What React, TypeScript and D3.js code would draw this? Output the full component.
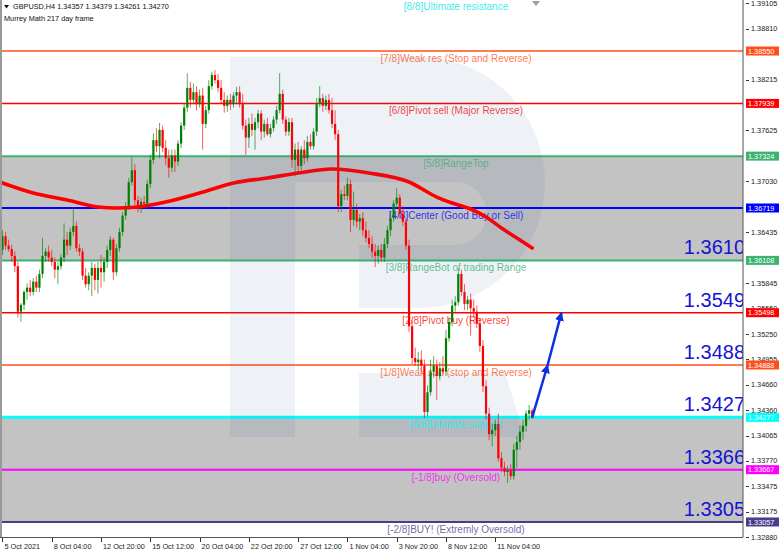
import React from "react";
import * as d3 from "d3";

// ---------- DATA ----------
// GBPUSD H4 candles: [open, high, low, close]
const candles: [number, number, number, number][] = [
  [1.3623,1.3646,1.3617,1.3639],[1.3639,1.3644,1.3623,1.3628],[1.3628,1.3635,1.3621,1.3624],[1.3624,1.3629,1.3609,1.3616],
  [1.3616,1.3621,1.3597,1.3604],[1.3604,1.3609,1.3544,1.3551],[1.3551,1.3561,1.3539,1.3559],[1.3559,1.3576,1.3553,1.3574],
  [1.3574,1.3584,1.3565,1.3579],[1.3579,1.3588,1.3569,1.3574],[1.3574,1.3590,1.3570,1.3586],[1.3586,1.3593,1.3574,1.3579],
  [1.3579,1.3600,1.3574,1.3595],[1.3595,1.3637,1.3590,1.3616],[1.3616,1.3625,1.3609,1.3621],[1.3621,1.3628,1.3609,1.3614],
  [1.3614,1.3623,1.3604,1.3609],[1.3609,1.3614,1.3590,1.3600],[1.3600,1.3609,1.3583,1.3604],[1.3604,1.3618,1.3600,1.3614],
  [1.3614,1.3654,1.3609,1.3635],[1.3635,1.3644,1.3617,1.3628],[1.3628,1.3649,1.3623,1.3644],[1.3644,1.3673,1.3639,1.3651],
  [1.3651,1.3656,1.3621,1.3625],[1.3625,1.3630,1.3616,1.3621],[1.3621,1.3625,1.3588,1.3593],[1.3593,1.3602,1.3579,1.3583],
  [1.3583,1.3597,1.3576,1.3593],[1.3593,1.3609,1.3569,1.3602],[1.3602,1.3607,1.3576,1.3588],[1.3588,1.3609,1.3572,1.3602],
  [1.3602,1.3617,1.3579,1.3597],[1.3597,1.3614,1.3586,1.3609],[1.3609,1.3628,1.3602,1.3623],[1.3623,1.3639,1.3616,1.3635],
  [1.3635,1.3637,1.3588,1.3597],[1.3597,1.3630,1.3593,1.3625],[1.3625,1.3649,1.3621,1.3644],[1.3644,1.3667,1.3639,1.3663],
  [1.3663,1.3679,1.3658,1.3674],[1.3674,1.3707,1.3670,1.3702],[1.3702,1.3731,1.3698,1.3716],[1.3716,1.3723,1.3675,1.3681],
  [1.3681,1.3686,1.3667,1.3674],[1.3674,1.3684,1.3666,1.3679],[1.3679,1.3686,1.3670,1.3677],[1.3677,1.3705,1.3672,1.3700],
  [1.3700,1.3734,1.3695,1.3728],[1.3728,1.3759,1.3723,1.3751],[1.3751,1.3765,1.3737,1.3744],[1.3744,1.3771,1.3730,1.3763],
  [1.3763,1.3768,1.3737,1.3742],[1.3742,1.3751,1.3722,1.3730],[1.3730,1.3740,1.3707,1.3719],[1.3719,1.3740,1.3714,1.3733],
  [1.3733,1.3740,1.3714,1.3726],[1.3726,1.3751,1.3721,1.3747],[1.3747,1.3772,1.3742,1.3768],[1.3768,1.3793,1.3763,1.3789],
  [1.3789,1.3829,1.3784,1.3812],[1.3812,1.3819,1.3789,1.3798],[1.3798,1.3817,1.3793,1.3807],[1.3807,1.3814,1.3786,1.3793],
  [1.3793,1.3810,1.3789,1.3803],[1.3803,1.3812,1.3740,1.3770],[1.3770,1.3791,1.3765,1.3786],[1.3786,1.3821,1.3782,1.3814],
  [1.3814,1.3831,1.3810,1.3827],[1.3827,1.3833,1.3817,1.3821],[1.3821,1.3828,1.3807,1.3812],[1.3812,1.3821,1.3793,1.3798],
  [1.3798,1.3807,1.3783,1.3791],[1.3791,1.3803,1.3784,1.3798],[1.3798,1.3805,1.3786,1.3793],[1.3793,1.3807,1.3789,1.3803],
  [1.3803,1.3813,1.3793,1.3807],[1.3807,1.3814,1.3789,1.3793],[1.3793,1.3805,1.3763,1.3768],[1.3768,1.3775,1.3734,1.3754],
  [1.3754,1.3777,1.3742,1.3770],[1.3770,1.3782,1.3756,1.3763],[1.3763,1.3777,1.3740,1.3772],[1.3772,1.3786,1.3765,1.3782],
  [1.3782,1.3786,1.3751,1.3761],[1.3761,1.3775,1.3754,1.3770],[1.3770,1.3777,1.3756,1.3758],[1.3758,1.3770,1.3754,1.3765],
  [1.3765,1.3779,1.3761,1.3775],[1.3775,1.3791,1.3770,1.3786],[1.3786,1.3829,1.3782,1.3805],[1.3805,1.3810,1.3770,1.3775],
  [1.3775,1.3779,1.3756,1.3761],[1.3761,1.3777,1.3756,1.3772],[1.3772,1.3777,1.3719,1.3728],[1.3728,1.3747,1.3709,1.3740],
  [1.3740,1.3749,1.3714,1.3721],[1.3721,1.3744,1.3716,1.3740],[1.3740,1.3751,1.3723,1.3730],[1.3730,1.3756,1.3726,1.3749],
  [1.3749,1.3758,1.3740,1.3744],[1.3744,1.3765,1.3740,1.3761],[1.3761,1.3800,1.3756,1.3793],[1.3793,1.3814,1.3789,1.3800],
  [1.3800,1.3805,1.3784,1.3791],[1.3791,1.3803,1.3786,1.3798],[1.3798,1.3805,1.3782,1.3786],[1.3786,1.3800,1.3765,1.3770],
  [1.3770,1.3786,1.3751,1.3758],[1.3758,1.3763,1.3667,1.3674],[1.3674,1.3693,1.3667,1.3688],[1.3688,1.3698,1.3681,1.3686],
  [1.3686,1.3707,1.3681,1.3700],[1.3700,1.3705,1.3644,1.3658],[1.3658,1.3691,1.3651,1.3670],[1.3670,1.3677,1.3649,1.3656],
  [1.3656,1.3665,1.3646,1.3660],[1.3660,1.3667,1.3639,1.3646],[1.3646,1.3656,1.3632,1.3637],[1.3637,1.3646,1.3625,1.3630],
  [1.3630,1.3639,1.3614,1.3621],[1.3621,1.3630,1.3603,1.3616],[1.3616,1.3628,1.3607,1.3623],[1.3623,1.3630,1.3609,1.3614],
  [1.3614,1.3637,1.3609,1.3630],[1.3630,1.3651,1.3625,1.3646],[1.3646,1.3667,1.3639,1.3660],[1.3660,1.3681,1.3656,1.3677],
  [1.3677,1.3695,1.3672,1.3684],[1.3684,1.3688,1.3660,1.3665],[1.3665,1.3674,1.3651,1.3656],[1.3656,1.3660,1.3623,1.3628],
  [1.3628,1.3635,1.3527,1.3534],[1.3534,1.3541,1.3490,1.3497],[1.3497,1.3509,1.3488,1.3492],[1.3492,1.3504,1.3483,1.3495],
  [1.3495,1.3506,1.3481,1.3488],[1.3488,1.3495,1.3427,1.3434],[1.3434,1.3465,1.3429,1.3457],[1.3457,1.3495,1.3453,1.3481],
  [1.3481,1.3499,1.3474,1.3488],[1.3488,1.3495,1.3448,1.3476],[1.3476,1.3492,1.3471,1.3485],[1.3485,1.3499,1.3478,1.3481],
  [1.3481,1.3530,1.3476,1.3520],[1.3520,1.3544,1.3516,1.3539],[1.3539,1.3565,1.3534,1.3558],[1.3558,1.3569,1.3551,1.3562],
  [1.3562,1.3602,1.3558,1.3595],[1.3595,1.3600,1.3569,1.3574],[1.3574,1.3583,1.3553,1.3560],[1.3560,1.3569,1.3553,1.3565],
  [1.3565,1.3572,1.3523,1.3555],[1.3555,1.3565,1.3544,1.3551],[1.3551,1.3558,1.3532,1.3537],[1.3537,1.3544,1.3504,1.3511],
  [1.3511,1.3518,1.3457,1.3464],[1.3464,1.3471,1.3425,1.3432],[1.3432,1.3439,1.3401,1.3408],[1.3408,1.3420,1.3394,1.3413],
  [1.3413,1.3425,1.3406,1.3420],[1.3420,1.3432,1.3376,1.3380],[1.3380,1.3387,1.3364,1.3369],[1.3369,1.3376,1.3359,1.3364],
  [1.3364,1.3371,1.3351,1.3366],[1.3366,1.3373,1.3355,1.3359],[1.3359,1.3397,1.3355,1.3390],[1.3390,1.3406,1.3369,1.3399],
  [1.3399,1.3418,1.3390,1.3411],[1.3411,1.3425,1.3401,1.3418],[1.3418,1.3436,1.3411,1.3432],[1.3432,1.3442,1.3425,1.3436],
  [1.34357,1.34379,1.34261,1.34270],
];

// Moving average samples (bar index, value)
const maBars = [0, 10, 21, 31, 37, 44, 53, 64, 75, 86, 96, 107, 119, 132, 141, 146, 152, 157, 162, 168, 172];
const maValues = [1.37011, 1.36894, 1.36812, 1.36731, 1.36719, 1.36731, 1.36789, 1.36894, 1.37011, 1.37069, 1.37127,
  1.37174, 1.37127, 1.37022, 1.36847, 1.36777, 1.36707, 1.36614, 1.36486, 1.36346, 1.36253];

// Murrey Math levels
const levelNames = ["[8/8]Ultimate resistance", "[7/8]Weak res (Stop and Reverse)", "[6/8]Pivot sell (Major Reverse)",
  "[5/8]RangeTop", "[4/8]Center (Good Buy or Sell)", "[3/8]RangeBot of trading Range", "[2/8]Pivot buy (Reverse)",
  "[1/8]Weak sup (stop and Reverse)", "[0/8]Ultimate support", "[-1/8]buy (Oversold)", "[-2/8]BUY! (Extremly Oversold)"];
const levelValues = [1.39160, 1.38550, 1.37939, 1.37324, 1.36719, 1.36108, 1.35498, 1.34888, 1.34277, 1.33667, 1.33057];
const levelLabels = ["1.39160", "1.38550", "1.37939", "1.37324", "1.36719", "1.36108", "1.35498", "1.34888", "1.34277", "1.33667", "1.33057"];

// Target labels
const targetValues = [1.36108, 1.35498, 1.34888, 1.34277, 1.33667, 1.33057];
const targetLabels = ["1.3610", "1.3549", "1.3488", "1.3427", "1.3366", "1.3305"];

// Forecast arrow (bar index, price)
const arrowBars = [172, 177, 181.5];
const arrowPrices = [1.34277, 1.34888, 1.35498];

// Axis ticks (those hidden under the level price boxes are left out)
const priceTicks = [1.39105, 1.38810, 1.38215, 1.37625, 1.37030, 1.36435,
  1.35845, 1.35550, 1.35250, 1.34955, 1.34660, 1.34360, 1.34065, 1.33770, 1.33475, 1.33175, 1.32880];
const timeTickBars = [0, 16, 32, 48, 64, 80, 96, 112, 128, 144, 160];
const timeTickLabels = ["5 Oct 2021", "8 Oct 04:00", "12 Oct 20:00", "15 Oct 12:00", "20 Oct 04:00", "22 Oct 20:00",
  "27 Oct 12:00", "1 Nov 04:00", "3 Nov 20:00", "8 Nov 12:00", "11 Nov 04:00"];

const headerTitle = "GBPUSD,H4  1.34357 1.34379 1.34261 1.34270";
const headerSub = "Murrey Math 217 day frame";

// ---------- STYLE ----------
const levelColors = ["#00e5e5", "#ff4f1a", "#ff0000", "#3cb371", "#0000ff", "#3cb371", "#ff0000", "#ff4f1a", "#00ffff", "#ff00ff", "#483d8b"];
const levelWidths = [2, 1.5, 1.5, 2, 2, 2, 1.5, 1.5, 3, 2, 2];
const FONT = "'Liberation Sans', Arial, sans-serif";

export default function App() {
  const W = 782, H = 556;
  const plotR = 743, plotB = 537.5;
  const x = d3.scaleLinear().domain([-0.8, 240.43]).range([0, plotR]);
  const y = d3.scaleLinear().domain([1.32870, 1.39145]).range([538, 0]);

  const maLine = d3.line<number>().x((_, i) => x(maBars[i])).y((d) => y(d)).curve(d3.curveMonotoneX);
  const bandTop = [3, 8];
  const bandBot = [5, 10];

  return (
    <svg width={W} height={H} style={{ position: "absolute", left: 0, top: 0, background: "#fff" }} fontFamily={FONT}>
      <defs>
        <marker id="ah" viewBox="0 0 10 10" refX="9" refY="5" markerWidth="9" markerHeight="9" markerUnits="userSpaceOnUse" orient="auto">
          <path d="M0,0 L10,5 L0,10 z" fill="#1030e0" />
        </marker>
        <clipPath id="plot"><rect x={0} y={0} width={plotR} height={plotB} /></clipPath>
      </defs>
      <rect x={0} y={0} width={W} height={H} fill="#fff" />
      <g clipPath="url(#plot)">
        {bandTop.map((t, k) => (
          <rect key={k} x={2} y={y(levelValues[t])} width={plotR - 2} height={y(levelValues[bandBot[k]]) - y(levelValues[t])} fill="#c3c3c3" />
        ))}
        {levelValues.map((v, i) => (
          <line key={i} x1={2} x2={plotR} y1={y(v)} y2={y(v)} stroke={levelColors[i]} strokeWidth={levelWidths[i]} />
        ))}
        {levelValues.map((v, i) => (
          <text key={i} x={456} y={y(v) + 11} textAnchor="middle" fontSize={10} fill={levelColors[i]} fillOpacity={0.78}>{levelNames[i]}</text>
        ))}
        {candles.map((c, i) => {
          const [o, h, l, cl] = c;
          const up = cl >= o;
          const col = up ? "#008000" : "#ff0000";
          const cx = x(i);
          const top = y(Math.max(o, cl));
          const bh = Math.max(1, y(Math.min(o, cl)) - top);
          return (
            <g key={i}>
              <line x1={cx} x2={cx} y1={y(h)} y2={y(l)} stroke={col} strokeWidth={1} strokeOpacity={0.65} />
              <rect x={cx - 1.1} y={top} width={2.2} height={bh} fill={col} />
            </g>
          );
        })}
        <path d={maLine(maValues) || ""} fill="none" stroke="#ff0000" strokeWidth={3.6} strokeLinecap="round" />
        {arrowBars.slice(1).map((b, i) => (
          <line key={i} x1={x(arrowBars[i])} y1={y(arrowPrices[i])} x2={x(b)} y2={y(arrowPrices[i + 1])}
            stroke="#1030e0" strokeWidth={2.5} markerEnd="url(#ah)" />
        ))}
        {targetValues.map((v, i) => (
          <text key={i} x={745} y={y(v) - 6} textAnchor="end" fontSize={20} fill="#1414d2">{targetLabels[i]}</text>
        ))}
        {/* watermark */}
        <g fill="#2a5c9b" fillOpacity={0.08}>
          <path d="M230,57 H295 V437 H230 Z" />
          <path d="M295,57 H420 A125,125.5 0 0 1 420,308 H359 V245 H455 A31.5,31.5 0 0 0 455,182 H295 Z" />
          <path d="M359,373 H505 L525,437 H359 Z" />
        </g>
      </g>
      {/* frame */}
      <line x1={1} x2={1} y1={0} y2={plotB} stroke="#9a9a9a" strokeWidth={2} />
      <line x1={plotR} x2={plotR} y1={0} y2={plotB} stroke="#555" strokeWidth={1} />
      <line x1={0} x2={plotR} y1={plotB} y2={plotB} stroke="#555" strokeWidth={1} />
      <path d="M532,1 L540,1 L536,6 Z" fill="#9a9a9a" />
      {/* price axis */}
      {priceTicks.map((v, i) => (
        <g key={i}>
          <line x1={746} x2={749} y1={Math.round(y(v)) + 0.5} y2={Math.round(y(v)) + 0.5} stroke="#333" />
          <text x={751} y={y(v) + 2.6} fontSize={7.3} fill="#222">{v.toFixed(5)}</text>
        </g>
      ))}
      {levelValues.map((v, i) => (i === 0 ? null : (
        <g key={i}>
          <rect x={746} y={y(v) - 4.5} width={33} height={9} fill={levelColors[i]} />
          <text x={748} y={y(v) + 2.6} fontSize={7.3} fill="#fff">{levelLabels[i]}</text>
        </g>
      )))}
      {/* time axis */}
      {timeTickBars.map((b, i) => (
        <g key={i}>
          <line x1={Math.round(x(b)) + 0.5} x2={Math.round(x(b)) + 0.5} y1={plotB} y2={542} stroke="#333" />
          <text x={x(b) + 2} y={549} fontSize={7.3} fill="#222">{timeTickLabels[i]}</text>
        </g>
      ))}
      {/* header */}
      <path d="M4,5 L9,5 L6.5,8.5 Z" fill="#111" />
      <text x={13} y={9.3} fontSize={7.3} fill="#111">{headerTitle}</text>
      <text x={4} y={21} fontSize={7.3} fill="#111">{headerSub}</text>
    </svg>
  );
}
